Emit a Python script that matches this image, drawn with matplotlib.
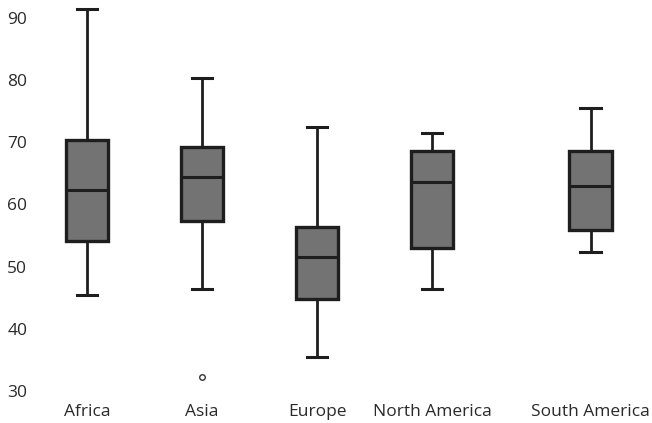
import matplotlib
matplotlib.use("Agg")
import matplotlib.pyplot as plt

categories = ["Africa", "Asia", "Europe", "North America", "South America"]
whisker_low = [45.4, 46.4, 35.5, 46.4, 52.3]
q1 = [54.1, 57.3, 44.8, 53.0, 55.9]
median = [62.3, 64.4, 51.5, 63.6, 63.0]
q3 = [70.4, 69.2, 56.4, 68.6, 68.6]
whisker_high = [91.4, 80.3, 72.4, 71.5, 75.5]
outliers = [[], [32.3], [], [], []]
positions = [0, 1, 2, 3, 4.38]
yticks = [30, 40, 50, 60, 70, 80, 90]

plt.rcParams['font.family'] = ['Open Sans', 'DejaVu Sans']

fig = plt.figure(figsize=(6.52, 4.23), dpi=100)
ax = fig.add_axes([30/652, 32/423, 620/652, 385.6/423])

stats = []
for i, c in enumerate(categories):
    stats.append(dict(label=c, whislo=whisker_low[i], q1=q1[i], med=median[i],
                      q3=q3[i], whishi=whisker_high[i], fliers=outliers[i]))

edge = "#1e1e1e"
ax.bxp(stats, positions=positions, widths=0.37, patch_artist=True,
       boxprops=dict(facecolor="#737373", edgecolor=edge, linewidth=2.4),
       medianprops=dict(color=edge, linewidth=2.2),
       whiskerprops=dict(color=edge, linewidth=2.0),
       capprops=dict(color=edge, linewidth=2.2),
       capwidths=0.18,
       flierprops=dict(marker='o', markersize=4, markerfacecolor='white',
                       markeredgecolor='#333333', markeredgewidth=1.0))

ax.set_ylim(30, 92)
ax.set_xlim(-0.496, 4.896)
ax.set_yticks(yticks)
ax.set_yticklabels([str(t) for t in yticks])
ax.set_xticks(positions)
ax.set_xticklabels(categories)
for s in ax.spines.values():
    s.set_visible(False)
ax.tick_params(axis='both', length=0, labelsize=12.5, colors="#2a2a2a")
ax.tick_params(axis='x', pad=9)
ax.tick_params(axis='y', pad=2)

fig.savefig("out.png", dpi=100)
